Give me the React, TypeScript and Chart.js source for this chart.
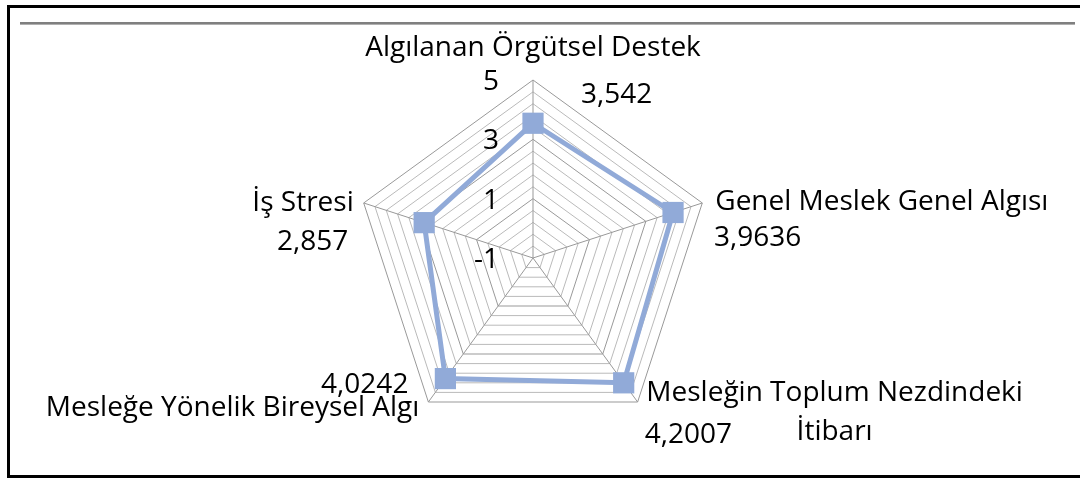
import React, { useEffect, useRef } from "react";
import { Chart, registerables } from "chart.js";

Chart.register(...registerables);

// ---- data ----
const categories: (string | string[])[] = [
  "Algılanan Örgütsel Destek",
  "Genel Meslek Genel Algısı",
  ["Mesleğin Toplum Nezdindeki", "İtibarı"],
  "Mesleğe Yönelik Bireysel Algı",
  "İş Stresi",
];
const values = [3.542, 3.9636, 4.2007, 4.0242, 2.857];
const valueLabels = ["3,542", "3,9636", "4,2007", "4,0242", "2,857"];
const axisMin = -1;
const axisMax = 5;
const majorStep = 2;
const minorStep = 0.4;

// ---- styles ----
const FONT_FAMILY = "'Open Sans', sans-serif";
const FONT_SIZE = 28;
const LINE_COLOR = "rgb(145,170,216)";

// offsets of category labels from the outer vertex
const catPlace = [
  { align: "center", dx: 0, dy: -32, lh: 0 },
  { align: "left", dx: 13, dy: -1, lh: 0 },
  { align: "center", dx: 197, dy: -9, lh: 39 },
  { align: "right", dx: -9, dy: 6, lh: 0 },
  { align: "right", dx: -10, dy: 0, lh: 0 },
];
// offsets of value labels from the data points
const valPlace = [
  { align: "left", dx: 48, dy: -28 },
  { align: "left", dx: 41, dy: 26 },
  { align: "left", dx: 21, dy: 52 },
  { align: "right", dx: -37, dy: 6 },
  { align: "right", dx: -76, dy: 19 },
];

const isMajor = (v: number) => {
  const k = (v - axisMin) / majorStep;
  return Math.abs(k - Math.round(k)) < 1e-6;
};

const labelPlugin = {
  id: "customLabels",
  afterDraw(chart: any) {
    const scale = chart.scales.r;
    const ctx = chart.ctx as CanvasRenderingContext2D;
    ctx.save();
    ctx.font = `${FONT_SIZE}px ${FONT_FAMILY}`;
    ctx.fillStyle = "#000";
    ctx.textBaseline = "middle";

    // category labels
    catPlace.forEach((p, i) => {
      const pos = scale.getPointPosition(i, scale.drawingArea);
      const c = categories[i];
      const lines = Array.isArray(c) ? c : [c];
      ctx.textAlign = p.align as CanvasTextAlign;
      lines.forEach((ln, j) => {
        ctx.fillText(ln, pos.x + p.dx, pos.y + p.dy + j * p.lh);
      });
    });

    // value labels
    const meta = chart.getDatasetMeta(0);
    meta.data.forEach((pt: any, i: number) => {
      const p = valPlace[i];
      ctx.textAlign = p.align as CanvasTextAlign;
      ctx.fillText(valueLabels[i], pt.x + p.dx, pt.y + p.dy);
    });

    // tick labels (major ticks only)
    ctx.textAlign = "right";
    scale.ticks.forEach((t: any) => {
      if (!isMajor(t.value)) return;
      const d = scale.getDistanceFromCenterForValue(t.value);
      ctx.fillText(String(Math.round(t.value)), scale.xCenter - 34, scale.yCenter - d + 2);
    });
    ctx.restore();
  },
};

export default function App() {
  const ref = useRef<HTMLCanvasElement | null>(null);

  useEffect(() => {
    if (!ref.current) return;
    const chart = new Chart(ref.current, {
      type: "radar",
      data: {
        labels: categories.map((c) => (Array.isArray(c) ? c.join(" ") : c)),
        datasets: [
          {
            data: values,
            borderColor: LINE_COLOR,
            backgroundColor: LINE_COLOR,
            borderWidth: 5,
            fill: false,
            pointStyle: "rect",
            pointRadius: 15,
            pointBorderWidth: 0,
            pointBackgroundColor: LINE_COLOR,
          },
        ],
      },
      options: {
        animation: false,
        responsive: false,
        devicePixelRatio: 1,
        layout: { padding: { left: 355, right: 369, top: 80, bottom: 42 } },
        plugins: { legend: { display: false }, tooltip: { enabled: false } },
        scales: {
          r: {
            min: axisMin,
            max: axisMax,
            ticks: { display: false, stepSize: minorStep },
            pointLabels: { display: false },
            grid: {
              color: (c: any) => (c.tick && isMajor(c.tick.value) ? "#999999" : "#bababa"),
              lineWidth: 1,
            },
            angleLines: { color: "#999999", lineWidth: 1 },
          },
        },
      },
      plugins: [labelPlugin],
    } as any);
    return () => chart.destroy();
  }, []);

  return (
    <div style={{ position: "fixed", left: 0, top: 0, width: 1080, height: 478, background: "#fff", overflow: "hidden" }}>
      <div
        style={{
          position: "absolute",
          left: 7,
          top: 5,
          width: 1090,
          height: 473,
          boxSizing: "border-box",
          border: "3px solid #000",
        }}
      />
      <div style={{ position: "absolute", left: 20, top: 22, width: 1055, height: 2, background: "#7f7f7f" }} />
      <div style={{ position: "absolute", left: 20, top: 24, width: 1055, height: 1, background: "#b0b0b0" }} />
      <canvas ref={ref} width={1080} height={478} style={{ position: "absolute", left: 0, top: 0, width: 1080, height: 478 }} />
    </div>
  );
}
